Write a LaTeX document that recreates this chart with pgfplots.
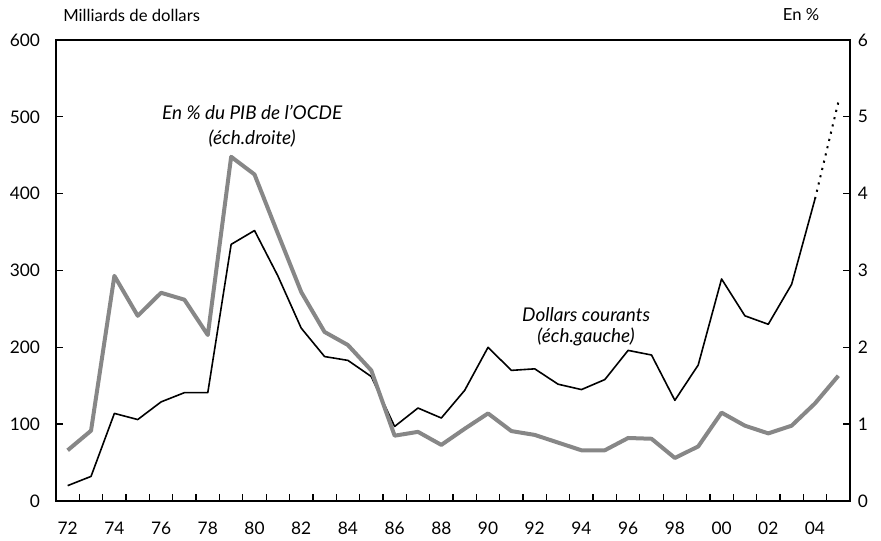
\documentclass[border=0pt]{standalone}
\usepackage{pgfplots}
\pgfplotsset{compat=1.18}
\usepackage{fontspec}
\setmainfont{Lato}
\definecolor{greyline}{RGB}{135,135,135}
\begin{document}
\begin{tikzpicture}
\useasboundingbox (-42pt,-30pt) rectangle (618.75pt,375.75pt);
\pgfplotsset{every axis/.append style={
  scale only axis, width=595.5pt, height=345.75pt,
  xmin=71.5, xmax=105.5,
  /pgf/number format/assume math mode=true,
  tick label style={font=\fontsize{13}{15}\selectfont},
  line width=1.3pt,
  tick style={line width=1pt, black},
}}
\begin{axis}[
  at={(0,0)}, anchor=south west,
  ymin=0, ymax=600,
  ytick={0,100,...,600},
  ytick pos=left, xtick pos=bottom,
  tick align=inside,
  major tick length=5pt,
  xtick={72,74,...,104},
  xticklabels={72,74,76,78,80,82,84,86,88,90,92,94,96,98,00,02,04},
  minor xtick={72.5,73.5,...,104.5},
  minor tick length=5pt,
  xticklabel style={yshift=-12pt},
  major x tick style={draw=none},
  yticklabel style={xshift=-8pt},
]
\addplot[black, line width=1.2pt, line join=round] coordinates {
(72,20)(73,32)(74,114)(75,106)(76,129)(77,141)(78,141)(79,334)(80,352)
(81,293)(82,225)(83,188)(84,183)(85,162)(86,97)(87,121)(88,108)(89,144)
(90,200)(91,170)(92,172)(93,152)(94,145)(95,158)(96,196)(97,190)(98,131)
(99,177)(100,289)(101,241)(102,230)(103,282)(104,393)};
\addplot[black, line width=1.5pt, dash pattern=on 1.6pt off 4pt] coordinates {(104,393)(105,519)};
\node[font=\fontsize{14.2}{19}\selectfont\itshape, align=center] at (axis cs:79.9,488) {En \% du PIB de l'OCDE\\(éch.droite)};
\node[font=\fontsize{14.2}{16}\selectfont\itshape, align=center] at (axis cs:94.2,227) {Dollars courants\\(éch.gauche)};
\end{axis}
\begin{axis}[
  at={(0,0)}, anchor=south west,
  ymin=0, ymax=6,
  ytick={0,1,...,6},
  hide x axis,
  axis y line*=right,
  tick align=inside,
  major tick length=5pt,
  yticklabel style={xshift=2pt},
]
\addplot[greyline, line width=3pt, line join=round] coordinates {
(72,0.66)(73,0.915)(74,2.93)(75,2.41)(76,2.71)(77,2.62)(78,2.16)(79,4.48)(80,4.25)
(81,3.48)(82,2.72)(83,2.20)(84,2.03)(85,1.70)(86,0.85)(87,0.90)(88,0.73)(89,0.94)
(90,1.14)(91,0.91)(92,0.86)(93,0.76)(94,0.66)(95,0.66)(96,0.82)(97,0.81)(98,0.56)
(99,0.71)(100,1.15)(101,0.98)(102,0.88)(103,0.98)(104,1.27)(105,1.63)};
\end{axis}
\node[anchor=west, font=\fontsize{12.5}{14}\selectfont] at (2pt,364.5pt) {Milliards de dollars};
\node[font=\fontsize{12.5}{14}\selectfont] at (558.75pt,364.5pt) {En \%};
\end{tikzpicture}
\end{document}
